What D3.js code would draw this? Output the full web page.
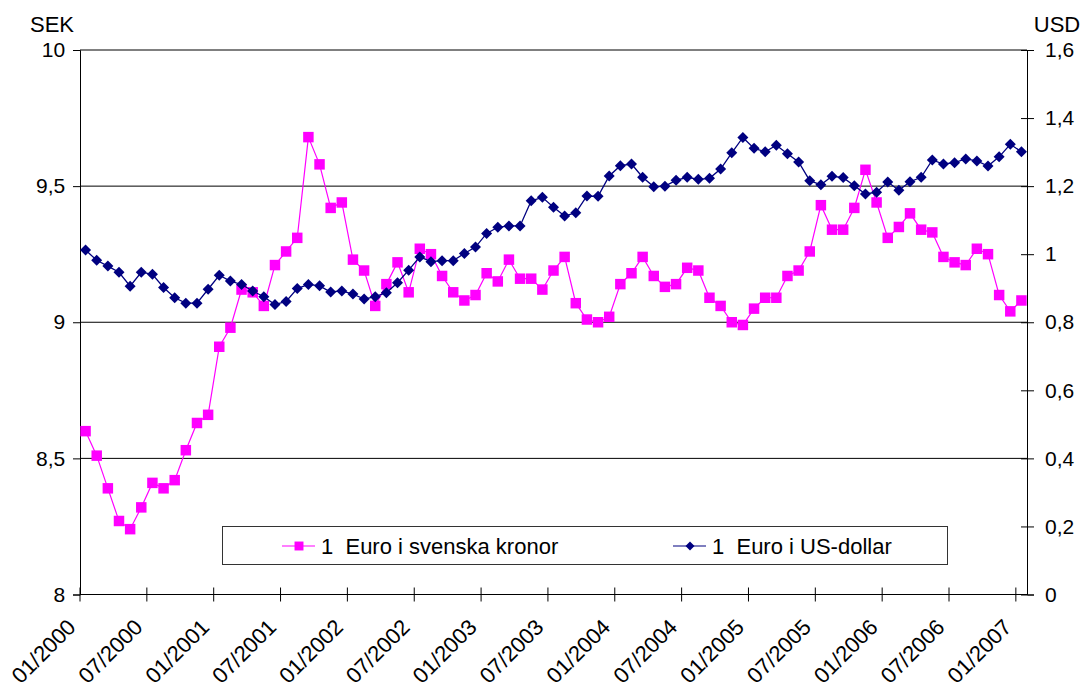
<!DOCTYPE html>
<html>
<head>
<meta charset="utf-8">
<script src="https://cdn.jsdelivr.net/npm/d3@7"></script>
<style>
    body { margin: 0; background: #fff; }
    svg text { font-family: "Liberation Sans", Arial, sans-serif; fill: #000; }
</style>
</head>
<body>
<div id="chart"></div>
<script>
// 1 euro i SEK and USD, monthly, 01/2000 - 01/2007
const SEK = [8.60, 8.51, 8.39, 8.27, 8.24, 8.32, 8.41, 8.39, 8.42, 8.53, 8.63, 8.66,
             8.91, 8.98, 9.12, 9.11, 9.06, 9.21, 9.26, 9.31, 9.68, 9.58, 9.42, 9.44,
             9.23, 9.19, 9.06, 9.14, 9.22, 9.11, 9.27, 9.25, 9.17, 9.11, 9.08, 9.10,
             9.18, 9.15, 9.23, 9.16, 9.16, 9.12, 9.19, 9.24, 9.07, 9.01, 9.00, 9.02,
             9.14, 9.18, 9.24, 9.17, 9.13, 9.14, 9.20, 9.19, 9.09, 9.06, 9.00, 8.99,
             9.05, 9.09, 9.09, 9.17, 9.19, 9.26, 9.43, 9.34, 9.34, 9.42, 9.56, 9.44,
             9.31, 9.35, 9.40, 9.34, 9.33, 9.24, 9.22, 9.21, 9.27, 9.25, 9.10, 9.04,
             9.08];
const USD = [1.012, 0.982, 0.965, 0.947, 0.906, 0.947, 0.941, 0.902, 0.872, 0.856, 0.856, 0.897,
             0.938, 0.921, 0.911, 0.892, 0.875, 0.852, 0.861, 0.899, 0.911, 0.907, 0.889, 0.892,
             0.883, 0.868, 0.875, 0.887, 0.916, 0.953, 0.992, 0.978, 0.981, 0.981, 1.002, 1.021,
             1.061, 1.079, 1.083, 1.083, 1.157, 1.167, 1.138, 1.112, 1.122, 1.171, 1.170, 1.230,
             1.260, 1.265, 1.226, 1.198, 1.200, 1.217, 1.226, 1.220, 1.223, 1.250, 1.298, 1.343,
             1.311, 1.301, 1.320, 1.295, 1.271, 1.216, 1.204, 1.229, 1.225, 1.201, 1.177, 1.182,
             1.212, 1.188, 1.213, 1.226, 1.277, 1.265, 1.269, 1.280, 1.274, 1.259, 1.286, 1.323,
             1.301];
const X_TICKS = ["01/2000", "07/2000", "01/2001", "07/2001", "01/2002", "07/2002", "01/2003", "07/2003",
                 "01/2004", "07/2004", "01/2005", "07/2005", "01/2006", "07/2006", "01/2007"];
const SEK_TICKS = [8, 8.5, 9, 9.5, 10];
const USD_TICKS = [0, 0.2, 0.4, 0.6, 0.8, 1, 1.2, 1.4, 1.6];
const SERIES_NAMES = ["1  Euro i svenska kronor", "1  Euro i US-dollar"];

const CFG = {
    W: 1080,
    H: 688,
    LEFT: 80,
    RIGHT: 1027,
    TOP: 50,
    BOTTOM: 594.5,
    PINK: "#FF00FF",
    NAVY: "#000080",
    FONT: "21px",
    XFONT: "22px",
};

/* ---------------------------------- */
const months = d3.timeMonths(new Date(2000, 0, 1), new Date(2007, 1, 1));
const fmtMonth = d3.timeFormat("%m/%Y");
const sv = d3.formatLocale({decimal: ",", thousands: " ", grouping: [3], currency: ["", " kr"]});
const fmtNum = sv.format(".1~f");

var x = d3.scaleBand()
          .domain(months.map(fmtMonth))
          .range([CFG.LEFT, CFG.RIGHT])
          .padding(0);
var ySek = d3.scaleLinear().domain([8, 10]).range([CFG.BOTTOM, CFG.TOP]);
var yUsd = d3.scaleLinear().domain([0, 1.6]).range([CFG.BOTTOM, CFG.TOP]);
var cx = (d, i) => x(fmtMonth(months[i])) + x.bandwidth()/2;

var svg = d3.select("#chart").append("svg")
            .attr("width", CFG.W)
            .attr("height", CFG.H);

// gridlines
svg.append("g")
   .selectAll("line")
   .data(SEK_TICKS.slice(1))
   .enter()
   .append("line")
   .attr("x1", CFG.LEFT)
   .attr("x2", CFG.RIGHT)
   .attr("y1", (d) => ySek(d))
   .attr("y2", (d) => ySek(d))
   .attr("stroke", "#000")
   .attr("stroke-width", 1);

// left axis
var leftAx = svg.append("g")
                .attr("transform", "translate("+CFG.LEFT+",0)")
                .call(d3.axisLeft(ySek).tickValues(SEK_TICKS).tickFormat(fmtNum).tickSize(7).tickPadding(11));
// right axis
var rightAx = svg.append("g")
                 .attr("transform", "translate("+CFG.RIGHT+",0)")
                 .call(d3.axisRight(yUsd).tickValues(USD_TICKS).tickFormat(fmtNum).tickSize(7).tickPadding(11));
rightAx.selectAll(".tick line").attr("x1", -6);
// bottom axis, ticks on category boundaries every 6 months
var boundary = (d, i) => x(X_TICKS[i]);
var bottomAx = svg.append("g")
                  .attr("transform", "translate(0,"+CFG.BOTTOM+")");
bottomAx.append("line")
        .attr("x1", CFG.LEFT)
        .attr("x2", CFG.RIGHT)
        .attr("stroke", "#000");
bottomAx.selectAll("line.tk")
        .data(X_TICKS)
        .enter()
        .append("line")
        .classed("tk", true)
        .attr("x1", boundary)
        .attr("x2", boundary)
        .attr("y1", -7)
        .attr("y2", 7)
        .attr("stroke", "#000");
bottomAx.selectAll("text")
        .data(X_TICKS)
        .enter()
        .append("text")
        .attr("text-anchor", "end")
        .attr("transform", (d, i) => "translate("+(boundary(d, i)-3)+",34) rotate(-45)")
        .style("font-size", CFG.XFONT)
        .text((d) => d);

[leftAx, rightAx].forEach(function(ax){
    ax.select(".domain").attr("stroke", "#000");
    ax.selectAll(".tick line").attr("stroke", "#000");
    ax.selectAll(".tick text")
      .style("font-size", CFG.FONT)
      .style("font-family", "'Liberation Sans', Arial, sans-serif");
});
leftAx.selectAll(".tick text").attr("dx", "0.15em");

svg.append("text").attr("x", 52).attr("y", 32).attr("text-anchor", "middle")
   .style("font-size", "22px").text("SEK");
svg.append("text").attr("x", 1057).attr("y", 32).attr("text-anchor", "middle")
   .style("font-size", "22px").text("USD");

// series
var square = d3.symbol().type(d3.symbolSquare).size(110);
var diamond = "M0,-5.5L5.5,0L0,5.5L-5.5,0Z";

var sekLine = d3.line().x(cx).y((d) => ySek(d));
var usdLine = d3.line().x(cx).y((d) => yUsd(d));

svg.append("path")
   .datum(SEK)
   .attr("d", sekLine)
   .attr("fill", "none")
   .attr("stroke", CFG.PINK)
   .attr("stroke-width", 1.2);
svg.append("g")
   .selectAll("path")
   .data(SEK)
   .enter()
   .append("path")
   .attr("d", square)
   .attr("transform", (d, i) => "translate("+cx(d, i)+","+ySek(d)+")")
   .attr("fill", CFG.PINK);

svg.append("path")
   .datum(USD)
   .attr("d", usdLine)
   .attr("fill", "none")
   .attr("stroke", CFG.NAVY)
   .attr("stroke-width", 1.3);
svg.append("g")
   .selectAll("path")
   .data(USD)
   .enter()
   .append("path")
   .attr("d", diamond)
   .attr("transform", (d, i) => "translate("+cx(d, i)+","+yUsd(d)+")")
   .attr("fill", CFG.NAVY);

// legend
var legend = svg.append("g").attr("transform", "translate(222,526)");
legend.append("rect")
      .attr("x", 0.5)
      .attr("y", 0.5)
      .attr("width", 725)
      .attr("height", 38)
      .attr("fill", "#fff")
      .attr("stroke", "#333");
var items = legend.selectAll("g.item")
                  .data(SERIES_NAMES)
                  .enter()
                  .append("g")
                  .classed("item", true)
                  .attr("transform", (d, i) => "translate("+(i === 0 ? 60 : 451)+",20)");
items.append("line")
     .attr("x1", 0)
     .attr("x2", 33)
     .attr("stroke", (d, i) => (i === 0 ? CFG.PINK : CFG.NAVY))
     .attr("stroke-width", 1.2);
items.append("path")
     .attr("d", (d, i) => (i === 0 ? d3.symbol().type(d3.symbolSquare).size(80)() : "M0,-4.5L4.5,0L0,4.5L-4.5,0Z"))
     .attr("transform", "translate(17,0)")
     .attr("fill", (d, i) => (i === 0 ? CFG.PINK : CFG.NAVY));
items.append("text")
     .attr("x", 39)
     .attr("y", 7.5)
     .style("font-size", "22px")
     .style("white-space", "pre")
     .text((d) => d);
</script>
</body>
</html>
